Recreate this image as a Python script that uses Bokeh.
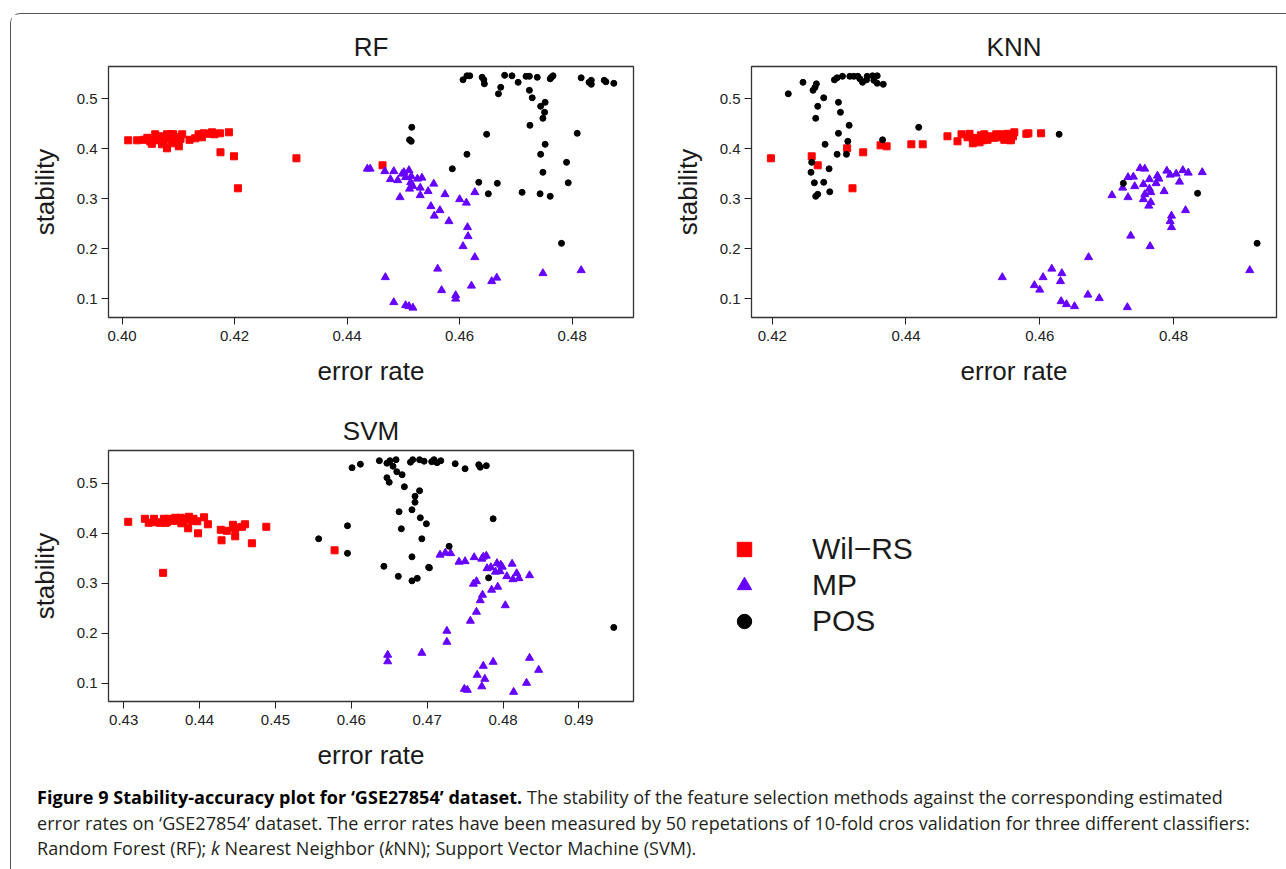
from bokeh.plotting import figure
from bokeh.models import (FixedTicker, PrintfTickFormatter, Legend, LegendItem,
                          Div, Range1d)
from bokeh.layouts import column, row
from bokeh.embed import file_html
from bokeh.resources import INLINE

# ---------------- data ----------------
series_names = ["Wil\u2212RS", "MP", "POS"]
series_colors = ["#FF0000", "#6600FF", "#000000"]
series_markers = ["square", "triangle", "circle"]

# RF
rf_wil_x = [0.4011, 0.4027, 0.4039, 0.4047, 0.4050, 0.4053, 0.4056, 0.4059, 0.4063, 0.4068,
            0.4071, 0.4074, 0.4077, 0.4080, 0.4080, 0.4083, 0.4086, 0.4089, 0.4091, 0.4095,
            0.4101, 0.4104, 0.4107, 0.4120, 0.4130, 0.4136, 0.4142, 0.4145, 0.4154, 0.4160,
            0.4164, 0.4174, 0.4190, 0.4175, 0.4199, 0.4206, 0.4310, 0.4463,
            0.4045, 0.4066, 0.4074, 0.4097]
rf_wil_y = [0.417, 0.417, 0.418, 0.420, 0.415, 0.410, 0.418, 0.429, 0.422, 0.425,
            0.409, 0.418, 0.423, 0.429, 0.401, 0.423, 0.429, 0.411, 0.429, 0.420,
            0.405, 0.420, 0.429, 0.418, 0.421, 0.429, 0.423, 0.431, 0.430, 0.433,
            0.429, 0.431, 0.433, 0.393, 0.385, 0.321, 0.381, 0.367,
            0.422, 0.417, 0.414, 0.424]
rf_mp_x = [0.4436, 0.4441, 0.4467, 0.4477, 0.4483, 0.4490, 0.4494, 0.4468, 0.4483,
           0.4498, 0.4501, 0.4504, 0.4510, 0.4513, 0.4514, 0.4517, 0.4511, 0.4525, 0.4530,
           0.4533, 0.4530, 0.4544, 0.4554, 0.4549, 0.4565, 0.4555, 0.4574, 0.4581, 0.4600,
           0.4612, 0.4627, 0.4614, 0.4615, 0.4606, 0.4627, 0.4561, 0.4568, 0.4593, 0.4593,
           0.4621, 0.4657, 0.4666, 0.4748, 0.4816, 0.4504, 0.4510, 0.4517]
rf_mp_y = [0.360, 0.360, 0.355, 0.339, 0.355, 0.337, 0.303, 0.143, 0.093,
           0.350, 0.353, 0.343, 0.357, 0.333, 0.345, 0.325, 0.320, 0.340, 0.322,
           0.342, 0.307, 0.315, 0.330, 0.285, 0.277, 0.266, 0.309, 0.255, 0.299,
           0.292, 0.313, 0.243, 0.225, 0.205, 0.183, 0.160, 0.117, 0.107, 0.100,
           0.126, 0.135, 0.142, 0.151, 0.157, 0.087, 0.085, 0.082]
rf_pos_x = [0.4606, 0.4613, 0.4618, 0.4640, 0.4643, 0.4644, 0.4680, 0.4693, 0.4704, 0.4718,
            0.4724, 0.4738, 0.4761, 0.4763, 0.4766, 0.4816, 0.4830, 0.4834, 0.4834, 0.4857,
            0.4860, 0.4874, 0.4673, 0.4669, 0.4724, 0.4729, 0.4744, 0.4752, 0.4751, 0.4748,
            0.4725, 0.4515, 0.4511, 0.4514, 0.4648, 0.4809, 0.4613, 0.4752, 0.4744, 0.4790,
            0.4587, 0.4634, 0.4667, 0.4651, 0.4711, 0.4743, 0.4761, 0.4748, 0.4793, 0.4781]
rf_pos_y = [0.538, 0.546, 0.546, 0.543, 0.538, 0.530, 0.547, 0.546, 0.533, 0.545,
            0.545, 0.543, 0.540, 0.543, 0.546, 0.542, 0.533, 0.537, 0.529, 0.537,
            0.534, 0.531, 0.523, 0.510, 0.517, 0.502, 0.485, 0.493, 0.473, 0.461,
            0.447, 0.443, 0.418, 0.415, 0.429, 0.431, 0.389, 0.409, 0.389, 0.373,
            0.360, 0.333, 0.331, 0.310, 0.313, 0.310, 0.305, 0.353, 0.332, 0.211]

# KNN
knn_wil_x = [0.4198, 0.4259, 0.4268, 0.4312, 0.4320, 0.4336, 0.4362, 0.4371, 0.4408, 0.4425,
             0.4462, 0.4477, 0.4483, 0.4492, 0.4495, 0.4500, 0.4505, 0.4510, 0.4512, 0.4517,
             0.4522, 0.4527, 0.4535, 0.4545, 0.4547, 0.4552, 0.4557, 0.4560, 0.4562, 0.4580,
             0.4583, 0.4602, 0.4502, 0.4515, 0.4532, 0.4540, 0.4555, 0.4556]
knn_wil_y = [0.381, 0.385, 0.367, 0.401, 0.321, 0.393, 0.407, 0.405, 0.409, 0.409,
             0.425, 0.415, 0.429, 0.423, 0.430, 0.411, 0.422, 0.413, 0.427, 0.429,
             0.418, 0.425, 0.429, 0.429, 0.418, 0.430, 0.418, 0.425, 0.433, 0.430,
             0.431, 0.431, 0.420, 0.417, 0.422, 0.423, 0.422, 0.417]
knn_mp_x = [0.4544, 0.4592, 0.4600, 0.4605, 0.4618, 0.4633, 0.4631, 0.4632, 0.4640, 0.4652,
            0.4673, 0.4672, 0.4689, 0.4731, 0.4736, 0.4765, 0.4708, 0.4724, 0.4732, 0.4740,
            0.4750, 0.4757, 0.4742, 0.4732, 0.4755, 0.4764, 0.4757, 0.4755, 0.4764, 0.4766,
            0.4766, 0.4763, 0.4774, 0.4776, 0.4778, 0.4786, 0.4790, 0.4795, 0.4804, 0.4809,
            0.4814, 0.4822, 0.4843, 0.4797, 0.4795, 0.4797, 0.4818, 0.4914]
knn_mp_y = [0.143, 0.127, 0.118, 0.143, 0.160, 0.151, 0.135, 0.095, 0.089, 0.085,
            0.183, 0.108, 0.101, 0.083, 0.226, 0.205, 0.307, 0.322, 0.343, 0.344,
            0.361, 0.360, 0.325, 0.303, 0.329, 0.339, 0.309, 0.299, 0.320, 0.313,
            0.293, 0.286, 0.331, 0.346, 0.340, 0.315, 0.356, 0.348, 0.350, 0.334,
            0.357, 0.352, 0.353, 0.266, 0.255, 0.243, 0.277, 0.157]
knn_pos_x = [0.4224, 0.4246, 0.4261, 0.4264, 0.4266, 0.4293, 0.4297, 0.4305, 0.4316, 0.4322,
             0.4328, 0.4331, 0.4335, 0.4341, 0.4342, 0.4350, 0.4352, 0.4357, 0.4357, 0.4366,
             0.4277, 0.4268, 0.4265, 0.4299, 0.4302, 0.4315, 0.4299, 0.4313, 0.4279, 0.4419,
             0.4365, 0.4297, 0.4311, 0.4259, 0.4258, 0.4285, 0.4263, 0.4277, 0.4286, 0.4265,
             0.4268, 0.4629, 0.4725, 0.4836, 0.4925]
knn_pos_y = [0.510, 0.533, 0.517, 0.523, 0.530, 0.538, 0.542, 0.545, 0.545, 0.545,
             0.545, 0.540, 0.533, 0.538, 0.545, 0.546, 0.537, 0.546, 0.531, 0.529,
             0.502, 0.485, 0.461, 0.493, 0.473, 0.447, 0.431, 0.415, 0.409, 0.443,
             0.418, 0.389, 0.389, 0.373, 0.353, 0.360, 0.332, 0.333, 0.314, 0.305,
             0.309, 0.429, 0.331, 0.311, 0.211]

# SVM
svm_wil_x = [0.4306, 0.4328, 0.4333, 0.4340, 0.4343, 0.4348, 0.4352, 0.4353, 0.4355, 0.4359,
             0.4368, 0.4370, 0.4375, 0.4376, 0.4381, 0.4386, 0.4385, 0.4390, 0.4392, 0.4397,
             0.4398, 0.4406, 0.4411, 0.4428, 0.4429, 0.4436, 0.4444, 0.4445, 0.4447, 0.4447,
             0.4456, 0.4460, 0.4469, 0.4488, 0.4578, 0.4357, 0.4364, 0.4379]
svm_wil_y = [0.423, 0.429, 0.421, 0.429, 0.422, 0.421, 0.321, 0.429, 0.421, 0.429,
             0.431, 0.425, 0.431, 0.420, 0.429, 0.433, 0.410, 0.425, 0.429, 0.424,
             0.400, 0.432, 0.418, 0.407, 0.386, 0.405, 0.417, 0.413, 0.409, 0.394,
             0.413, 0.418, 0.380, 0.413, 0.366, 0.422, 0.425, 0.423]
svm_mp_x = [0.4648, 0.4648, 0.4693, 0.4717, 0.4724, 0.4731, 0.4742, 0.4750, 0.4762, 0.4772,
            0.4774, 0.4778, 0.4779, 0.4784, 0.4792, 0.4790, 0.4797, 0.4799, 0.4796, 0.4812,
            0.4805, 0.4818, 0.4813, 0.4821, 0.4835, 0.4761, 0.4765, 0.4785, 0.4793, 0.4773,
            0.4770, 0.4803, 0.4765, 0.4757, 0.4726, 0.4726, 0.4774, 0.4787, 0.4766, 0.4776,
            0.4772, 0.4749, 0.4753, 0.4814, 0.4831, 0.4835, 0.4847]
svm_mp_y = [0.157, 0.144, 0.161, 0.357, 0.361, 0.360, 0.343, 0.344, 0.352, 0.349,
            0.353, 0.355, 0.330, 0.332, 0.340, 0.323, 0.337, 0.333, 0.324, 0.339,
            0.314, 0.320, 0.308, 0.310, 0.316, 0.299, 0.304, 0.287, 0.293, 0.277,
            0.266, 0.256, 0.243, 0.225, 0.205, 0.183, 0.135, 0.143, 0.117, 0.109,
            0.094, 0.089, 0.087, 0.083, 0.101, 0.151, 0.127]
svm_pos_x = [0.4557, 0.4595, 0.4595, 0.4601, 0.4612, 0.4637, 0.4647, 0.4651, 0.4655, 0.4659,
             0.4660, 0.4667, 0.4647, 0.4650, 0.4670, 0.4678, 0.4681, 0.4690, 0.4696, 0.4706,
             0.4709, 0.4713, 0.4718, 0.4737, 0.4750, 0.4768, 0.4770, 0.4778, 0.4690, 0.4684,
             0.4684, 0.4663, 0.4680, 0.4691, 0.4699, 0.4666, 0.4693, 0.4787, 0.4729, 0.4680,
             0.4643, 0.4702, 0.4703, 0.4662, 0.4680, 0.4687, 0.4781, 0.4946]
svm_pos_y = [0.389, 0.415, 0.360, 0.531, 0.538, 0.545, 0.540, 0.545, 0.534, 0.547,
             0.523, 0.517, 0.511, 0.502, 0.493, 0.542, 0.547, 0.547, 0.544, 0.543,
             0.547, 0.541, 0.545, 0.539, 0.529, 0.537, 0.532, 0.535, 0.485, 0.474,
             0.462, 0.443, 0.447, 0.431, 0.419, 0.409, 0.389, 0.429, 0.374, 0.353,
             0.334, 0.332, 0.331, 0.314, 0.305, 0.310, 0.311, 0.212]

rf_xticks = [0.40, 0.42, 0.44, 0.46, 0.48]
knn_xticks = [0.42, 0.44, 0.46, 0.48]
svm_xticks = [0.43, 0.44, 0.45, 0.46, 0.47, 0.48, 0.49]
y_ticks = [0.1, 0.2, 0.3, 0.4, 0.5]

rf_xlim = (0.3976, 0.4909)
knn_xlim = (0.4169, 0.4954)
svm_xlim = (0.4280, 0.4972)
y_lim = (0.0626, 0.5646)
svm_ylim = (0.0640, 0.5654)

FONT = "Liberation Sans"
marker_sizes = [7, 8, 6]


def make_panel(title, xs, ys, xticks, xlim, ylim, xfmt, fw, mb_left, mb_right, mb_top, mb_bottom):
    p = figure(frame_width=fw, frame_height=251,
               x_range=Range1d(*xlim), y_range=Range1d(*ylim),
               min_border_left=mb_left, min_border_right=mb_right,
               min_border_top=mb_top, min_border_bottom=mb_bottom,
               output_backend="svg", toolbar_location=None, title=title)
    p.title.text_font = FONT
    p.title.text_font_size = "26px"
    p.title.text_font_style = "normal"
    p.title.align = "center"
    p.title.text_color = "#1a1a1a"
    p.title.standoff = 10
    p.outline_line_color = "#333333"
    p.outline_line_width = 1.3
    p.xgrid.visible = False
    p.ygrid.visible = False
    p.background_fill_color = "white"
    p.border_fill_color = "white"
    renderers = []
    for i in range(3):
        r = p.scatter(xs[i], ys[i], marker=series_markers[i], size=marker_sizes[i],
                      fill_color=series_colors[i], line_color=series_colors[i])
        renderers.append(r)
    p.xaxis.ticker = FixedTicker(ticks=xticks)
    p.yaxis.ticker = FixedTicker(ticks=y_ticks)
    p.xaxis.formatter = PrintfTickFormatter(format=xfmt)
    p.yaxis.formatter = PrintfTickFormatter(format="%.1f")
    p.xaxis.axis_label = "error rate"
    p.yaxis.axis_label = "stability"
    for ax in (p.xaxis[0], p.yaxis[0]):
        ax.axis_line_color = None
        ax.major_tick_in = 0
        ax.major_tick_out = 7
        ax.major_tick_line_color = "#222222"
        ax.minor_tick_line_color = None
        ax.major_label_text_font = FONT
        ax.major_label_text_font_size = "15px"
        ax.major_label_text_color = "#222222"
        ax.axis_label_text_font = FONT
        ax.axis_label_text_font_size = "26px"
        ax.axis_label_text_font_style = "normal"
        ax.axis_label_text_color = "#1a1a1a"
    p.xaxis.major_label_standoff = 6
    p.yaxis.major_label_standoff = 4
    p.xaxis.axis_label_standoff = 12
    p.yaxis.axis_label_standoff = 14
    return p, renderers


p1, _ = make_panel("RF", [rf_wil_x, rf_mp_x, rf_pos_x], [rf_wil_y, rf_mp_y, rf_pos_y],
                   rf_xticks, rf_xlim, y_lim, "%.2f", 525, 97, 10, 52, 78)
p2, _ = make_panel("KNN", [knn_wil_x, knn_mp_x, knn_pos_x], [knn_wil_y, knn_mp_y, knn_pos_y],
                   knn_xticks, knn_xlim, y_lim, "%.2f", 525, 108, 2, 52, 78)
p3, r3 = make_panel("SVM", [svm_wil_x, svm_mp_x, svm_pos_x], [svm_wil_y, svm_mp_y, svm_pos_y],
                    svm_xticks, svm_xlim, svm_ylim, "%.2f", 525, 97, 300, 55, 69)

legend = Legend(items=[LegendItem(label=series_names[i], renderers=[r3[i]]) for i in range(3)],
                location=(93, 62), glyph_width=36, glyph_height=36, label_height=36,
                label_standoff=50, spacing=0, padding=0, margin=0,
                border_line_color=None, background_fill_alpha=0,
                label_text_font=FONT, label_text_font_size="30px",
                label_text_color="#1a1a1a", label_text_baseline="middle")
p3.add_layout(legend, "right")

caption = Div(
    text=("<b style='color:#000'>Figure 9 Stability-accuracy plot for \u2018GSE27854\u2019 dataset.</b> "
          "The stability of the feature selection methods against the corresponding estimated<br>"
          "error rates on \u2018GSE27854\u2019 dataset. The error rates have been measured by 50 "
          "repetations of 10-fold cros validation for three different classifiers:<br>"
          "Random Forest (RF); <i>k</i> Nearest Neighbor (<i>k</i>NN); Support Vector Machine (SVM)."),
    width=1266, height=90,
    styles={"font-family": "Open Sans", "font-size": "18px", "line-height": "25.5px",
            "color": "#231f20", "padding-left": "21px", "padding-top": "8px",
            "white-space": "nowrap", "letter-spacing": "0.05px"})

layout = column(row(p1, p2), p3, caption,
                margin=(13, 0, 0, 10),
                styles={"border-top": "1px solid #555", "border-left": "1px solid #555",
                        "border-top-left-radius": "10px"})

open("out.html", "w").write(file_html(layout, INLINE))
